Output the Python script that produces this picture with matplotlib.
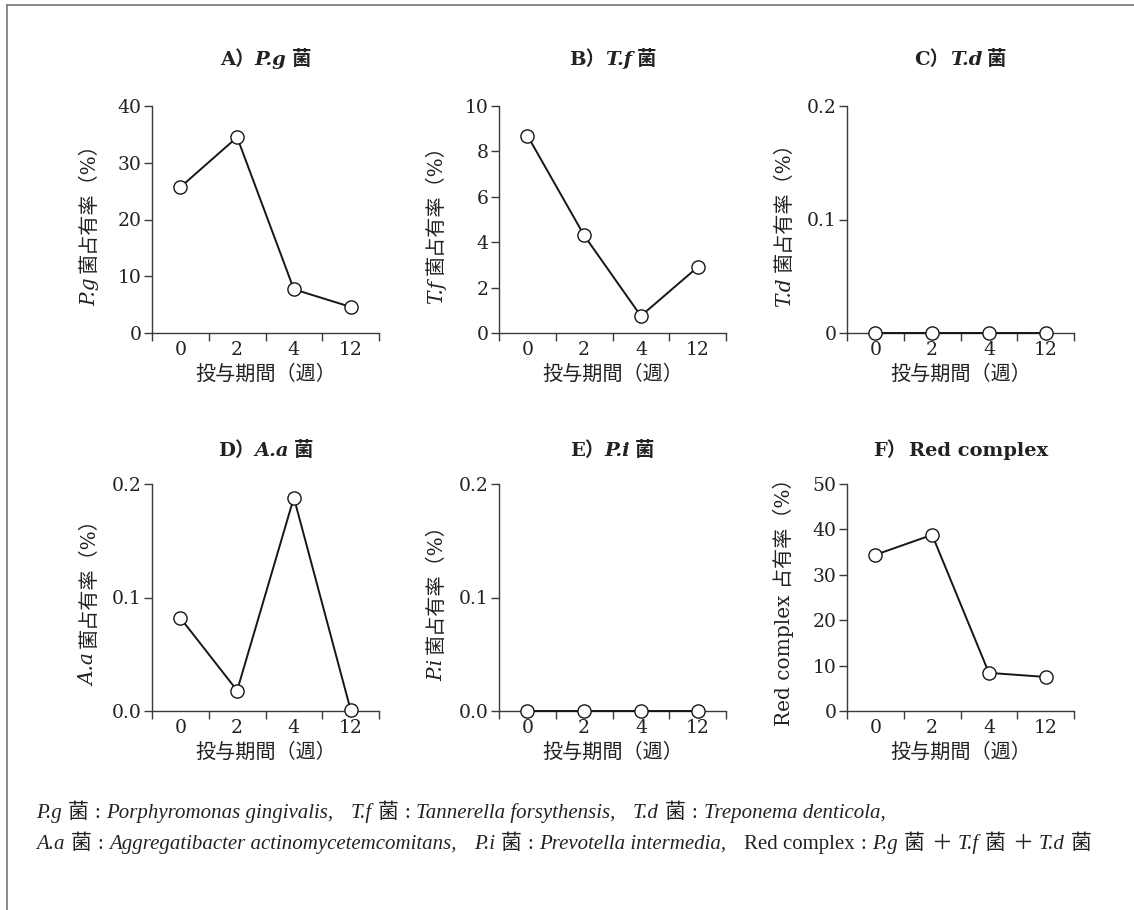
import matplotlib
matplotlib.use('Agg')
import matplotlib.pyplot as plt
from matplotlib.lines import Line2D

# ---------------- data ----------------
weeks = ['0', '2', '4', '12']
pg_vals = [25.7, 34.5, 7.7, 4.6]
tf_vals = [8.7, 4.3, 0.75, 2.9]
td_vals = [0.0, 0.0, 0.0, 0.0]
aa_vals = [0.082, 0.018, 0.188, 0.001]
pi_vals = [0.0, 0.0, 0.0, 0.0]
red_vals = [34.4, 38.8, 8.4, 7.5]

pg_ticks = [0, 10, 20, 30, 40]
tf_ticks = [0, 2, 4, 6, 8, 10]
small_ticks = [0, 0.1, 0.2]
td_ticklabels = ['0', '0.1', '0.2']
aa_ticklabels = ['0.0', '0.1', '0.2']
pi_ticklabels = ['0.0', '0.1', '0.2']
red_ticks = [0, 10, 20, 30, 40, 50]

xlabel_text = '投与期間（週）'

# ---------------- style ----------------
W, H, DPI = 1134, 910, 100
SER = 'DejaVu Serif'
LIB = 'Liberation Serif'
CJK = 'Noto Sans CJK JP'
TXT = '#222222'
AXC = '#3a3a3a'
FS_TICK = 13.5
FS_LAB = 14.5
FS_TITLE = 14

fig = plt.figure(figsize=(W / DPI, H / DPI), dpi=DPI)
fig.patch.set_facecolor('white')
renderer = fig.canvas.get_renderer()


def fx(px):
    return px / W


def fy(py):
    return 1 - py / H


def draw_pieces(x, y, pieces, size, rotation=0, align='center', color=TXT):
    """x, y in pixels from top-left. Horizontal: y is baseline, x anchor by align.
    Rotated 90: x is baseline, y is centre along the text."""
    items = []
    cursor = 0.0
    for p in pieces:
        if isinstance(p, (int, float)):
            cursor += p
            continue
        s, kw = p
        t = fig.text(0, 0, s, fontsize=size, va='baseline', ha='left',
                     rotation=rotation, rotation_mode='anchor', color=color, **kw)
        bb = t.get_window_extent(renderer)
        adv = bb.width if rotation == 0 else bb.height
        items.append((t, cursor))
        cursor += adv
    total = cursor
    if align == 'center':
        start = -total / 2
    elif align == 'left':
        start = 0
    else:
        start = -total
    for t, off in items:
        if rotation == 0:
            t.set_position((fx(x + start + off), fy(y)))
        else:
            t.set_position((fx(x), fy(y - start - off)))
    return total


RM = dict(family=[SER, CJK])
IT = dict(family=[SER], style='italic')
BF = dict(family=[SER, CJK], weight='bold')
BI = dict(family=[SER], style='italic', weight='bold')

panels = [
    dict(vals=pg_vals, ticks=pg_ticks, labels=[str(v) for v in pg_ticks],
         title=[('A）', BF), ('P.g', BI), 5, ('菌', BF)],
         ylabel=[('P.g', IT), 5, ('菌占有率（%）', RM)], col=0, row=0),
    dict(vals=tf_vals, ticks=tf_ticks, labels=[str(v) for v in tf_ticks],
         title=[('B）', BF), ('T.f', BI), 5, ('菌', BF)],
         ylabel=[('T.f', IT), 5, ('菌占有率（%）', RM)], col=1, row=0),
    dict(vals=td_vals, ticks=small_ticks, labels=td_ticklabels,
         title=[('C）', BF), ('T.d', BI), 5, ('菌', BF)],
         ylabel=[('T.d', IT), 5, ('菌占有率（%）', RM)], col=2, row=0),
    dict(vals=aa_vals, ticks=small_ticks, labels=aa_ticklabels,
         title=[('D）', BF), ('A.a', BI), 5, ('菌', BF)],
         ylabel=[('A.a', IT), 5, ('菌占有率（%）', RM)], col=0, row=1),
    dict(vals=pi_vals, ticks=small_ticks, labels=pi_ticklabels,
         title=[('E）', BF), ('P.i', BI), 5, ('菌', BF)],
         ylabel=[('P.i', IT), 5, ('菌占有率（%）', RM)], col=1, row=1),
    dict(vals=red_vals, ticks=red_ticks, labels=[str(v) for v in red_ticks],
         title=[('F）', BF), 3, ('Red complex', BF)],
         ylabel=[('Red complex 占有率（%）', RM)], col=2, row=1),
]

col_x = [152, 499, 847]
ax_w = 227
row_top = [106, 484]
ax_h = 227
title_base = [65, 456]

for p in panels:
    x0 = col_x[p['col']]
    top = row_top[p['row']]
    bottom = top + ax_h
    ax = fig.add_axes([fx(x0), fy(bottom), ax_w / W, ax_h / H])
    xs = list(range(len(weeks)))
    ax.plot(xs, p['vals'], '-', color='#161616', lw=1.4, marker='o', ms=9.5,
            mfc='white', mec='#161616', mew=1.0, clip_on=False, zorder=3)
    ax.set_xlim(-0.5, len(weeks) - 0.5)
    ax.set_ylim(p['ticks'][0], p['ticks'][-1])
    ax.set_xticks(xs)
    ax.set_xticklabels(weeks)
    ax.set_xticks([i - 0.5 for i in range(len(weeks) + 1)], minor=True)
    ax.set_yticks(p['ticks'])
    ax.set_yticklabels(p['labels'])
    for side in ('top', 'right'):
        ax.spines[side].set_visible(False)
    for side in ('left', 'bottom'):
        ax.spines[side].set_color(AXC)
        ax.spines[side].set_linewidth(1.0)
    ax.tick_params(axis='x', which='major', length=0, pad=6, labelsize=FS_TICK,
                   labelcolor=TXT)
    ax.tick_params(axis='x', which='minor', length=5.5, width=1.0, direction='out',
                   color=AXC)
    ax.tick_params(axis='y', which='major', length=5.5, width=1.0, direction='out',
                   color=AXC, pad=2, labelsize=FS_TICK, labelcolor=TXT)
    for lab in ax.get_xticklabels() + ax.get_yticklabels():
        lab.set_family(SER)
    ax.set_facecolor('none')

    cx = x0 + ax_w / 2
    # title
    draw_pieces(cx, title_base[p['row']], p['title'], FS_TITLE, align='center')
    # x label
    fig.text(fx(cx), fy(bottom + 41), xlabel_text, fontsize=FS_LAB, ha='center',
             va='center', family=[CJK], color=TXT)
    # y label
    draw_pieces(x0 - 57, top + ax_h / 2, p['ylabel'], FS_LAB, rotation=90,
                align='center')

# footnote
FN = 15
FIT = dict(family=[LIB], style='italic')
FRM = dict(family=[LIB, CJK])
FCJ = dict(family=[CJK])
g = 6
G = 17
line1 = [('P.g', FIT), g, ('菌', FCJ), g, (':', FRM), g,
         ('Porphyromonas gingivalis,', FIT), G,
         ('T.f', FIT), g, ('菌', FCJ), g, (':', FRM), g,
         ('Tannerella forsythensis,', FIT), G,
         ('T.d', FIT), g, ('菌', FCJ), g, (':', FRM), g,
         ('Treponema denticola,', FIT)]
line2 = [('A.a', FIT), g, ('菌', FCJ), g, (':', FRM), g,
         ('Aggregatibacter actinomycetemcomitans,', FIT), G,
         ('P.i', FIT), g, ('菌', FCJ), g, (':', FRM), g,
         ('Prevotella intermedia,', FIT), G,
         ('Red complex', FRM), g, (':', FRM), g,
         ('P.g', FIT), g, ('菌', FCJ), g, ('＋', FCJ), g,
         ('T.f', FIT), g, ('菌', FCJ), g, ('＋', FCJ), g,
         ('T.d', FIT), g, ('菌', FCJ)]
draw_pieces(36, 818, line1, FN, align='left')
draw_pieces(36, 849, line2, FN, align='left')

# frame (top and left edges)
fig.add_artist(Line2D([fx(7), fx(W)], [fy(5), fy(5)], transform=fig.transFigure,
                      color='#777777', lw=1.2))
fig.add_artist(Line2D([fx(7), fx(7)], [fy(5), fy(H)], transform=fig.transFigure,
                      color='#777777', lw=1.2))

fig.savefig('out.png', dpi=DPI, facecolor='white')
